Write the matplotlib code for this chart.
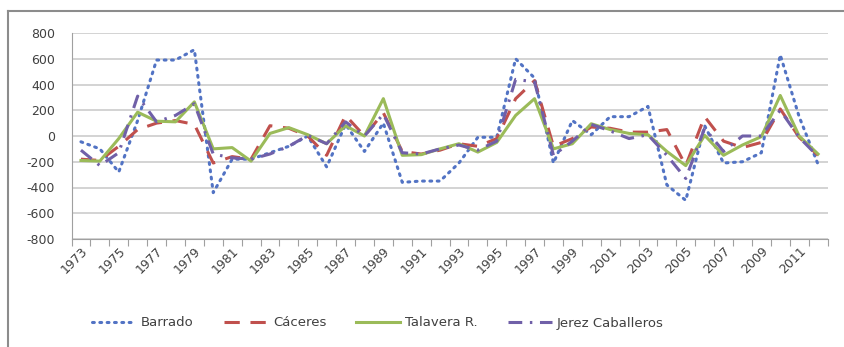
import numpy as np
import matplotlib.pyplot as plt
from matplotlib.lines import Line2D

# Años y series (anomalías)
anios = list(range(1973, 2013))

barrado = [-45, -100, -280, 120, 590, 590, 670, -440, -180, -180,
           -130, -80, 0, -240, 90, -120, 100, -360, -350, -350,
           -210, -10, -10, 600, 450, -210, 120, 10, 150, 150,
           230, -380, -500, 80, -210, -200, -130, 630, 150, -220]

caceres = [-180, -190, -80, 50, 100, 120, 90, -210, -160, -180,
           80, 60, 0, -150, 160, 0, 180, -120, -140, -110,
           -60, -80, -20, 290, 430, -80, -20, 70, 60, 30,
           30, 50, -230, 150, -40, -90, -50, 210, -10, -150]

talavera = [-190, -195, -20, 185, 115, 110, 265, -100, -90, -195,
            20, 65, 10, -60, 80, 0, 290, -150, -145, -100,
            -60, -125, -50, 160, 290, -100, -60, 95, 50, 20,
            10, -120, -230, 5, -150, -70, -5, 315, 0, -140]

jerez = [-110, -230, -130, 310, 110, 160, 250, -140, -170, -180,
         -140, -80, 5, -60, 110, 0, 170, -130, -140, -100,
         -70, -110, -40, 440, 420, -150, -40, 90, 40, -20,
         10, -150, -330, 60, -120, 0, 0, 200, -10, -160]

etiquetas_y = [-800, -600, -400, -200, 0, 200, 400, 600, 800]

gris = '#404040'
x = np.arange(len(anios))

fig = plt.figure(figsize=(8.44, 3.47), dpi=100)
ax = fig.add_axes([71.5 / 844, 108 / 347, 756 / 844, 206 / 347])

# marco exterior del gráfico
fig.add_artist(Line2D([8 / 844, 8 / 844], [0, 1 - 11 / 347], color='#8c8c8c', lw=1.5))
fig.add_artist(Line2D([8 / 844, 1], [1 - 11 / 347, 1 - 11 / 347], color='#8c8c8c', lw=1.5))

ax.plot(x, barrado, color='#5273C4', lw=2.2, linestyle=(0, (0.6, 1.8)),
        dash_capstyle='round', label='Barrado')
ax.plot(x, caceres, color='#C0504D', lw=2.2, linestyle=(0, (5, 3.5)), label='Cáceres')
ax.plot(x, talavera, color='#9BBB59', lw=2.2, label='Talavera R.')
ax.plot(x, jerez, color='#7060A8', lw=2.2, linestyle=(0, (4.5, 2.5, 0.8, 2.5)),
        label='Jerez Caballeros')

ax.set_xlim(-0.5, len(anios) - 0.5)
ax.set_ylim(-800, 800)
ax.set_yticks(etiquetas_y)
ax.set_yticklabels([str(v) for v in etiquetas_y], fontsize=9, color=gris)
ax.grid(axis='y', color='#d0d0d0', lw=1.3)
ax.set_axisbelow(True)

# marcas del eje x entre categorías, etiquetas cada dos años
ax.set_xticks(np.arange(-0.5, len(anios), 1.0))
ax.set_xticklabels([])
ax.set_xticks(x[::2], minor=True)
ax.set_xticklabels([str(a) for a in anios[::2]], minor=True, rotation=45,
                   ha='right', va='top', rotation_mode='anchor', fontsize=9, color=gris)
ax.tick_params(axis='x', which='major', length=5, color='#a0a0a0', direction='out')
ax.tick_params(axis='x', which='minor', length=0, pad=4)
ax.tick_params(axis='y', length=0, pad=12)

for lado in ['top', 'right']:
    ax.spines[lado].set_visible(False)
ax.spines['left'].set_color('#a0a0a0')
ax.spines['bottom'].set_color('#a0a0a0')

ax.legend(loc='center', bbox_to_anchor=(378 / 844, 1 - 323 / 347),
          bbox_transform=fig.transFigure, ncol=4, frameon=False,
          fontsize=9.5, labelcolor=gris, handlelength=3.3, columnspacing=2.3,
          handletextpad=0.4)

fig.savefig('out.png', dpi=100)
